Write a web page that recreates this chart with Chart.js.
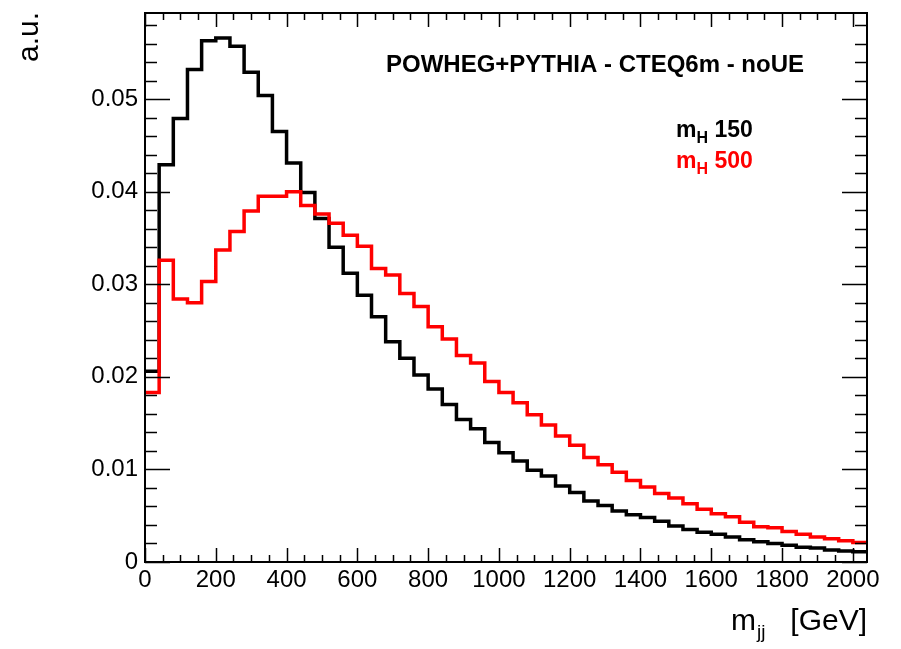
<!DOCTYPE html>
<html>
<head>
<meta charset="utf-8">
<script src="https://cdn.jsdelivr.net/npm/chart.js@4"></script>
<style>
  body { margin: 0; background: #fff; }
  #wrap { width: 901px; height: 649px; }
</style>
</head>
<body>
<div id="wrap"><canvas id="grafico" width="901" height="649"></canvas></div>
<script>
// lower bin edges of m_jj in GeV (40 GeV bins), last edge closes the range
const binLow = [0, 40, 80, 120, 160, 200, 240, 280, 320, 360, 400, 440, 480, 520, 560, 600, 640, 680,
  720, 760, 800, 840, 880, 920, 960, 1000, 1040, 1080, 1120, 1160, 1200, 1240, 1280, 1320, 1360,
  1400, 1440, 1480, 1520, 1560, 1600, 1640, 1680, 1720, 1760, 1800, 1840, 1880, 1920, 1960, 2000];
const xMax = 2040;

const mH150 = [0.0206, 0.0429, 0.0479, 0.0532, 0.0563, 0.0566, 0.0557, 0.0529, 0.0504, 0.0465,
  0.0431, 0.0399, 0.0371, 0.0340, 0.0312, 0.0288, 0.0265, 0.0238, 0.0220, 0.0202,
  0.0187, 0.0170, 0.0154, 0.0144, 0.0129, 0.0118, 0.0109, 0.0099, 0.0093, 0.0082,
  0.0075, 0.0066, 0.0061, 0.0055, 0.0051, 0.0048, 0.0044, 0.0039, 0.0035, 0.0032,
  0.0030, 0.0027, 0.0024, 0.0022, 0.0020, 0.0018, 0.0016, 0.0015, 0.0013, 0.0012, 0.0011];

const mH500 = [0.0183, 0.0326, 0.0284, 0.0280, 0.0303, 0.0337, 0.0357, 0.0379, 0.0395, 0.0395,
  0.0400, 0.0385, 0.0376, 0.0366, 0.0353, 0.0341, 0.0317, 0.0310, 0.0290, 0.0276,
  0.0254, 0.0241, 0.0223, 0.0215, 0.0195, 0.0183, 0.0172, 0.0159, 0.0148, 0.0136,
  0.0126, 0.0113, 0.0105, 0.0097, 0.0088, 0.0081, 0.0074, 0.0069, 0.0063, 0.0057,
  0.0052, 0.0049, 0.0043, 0.0038, 0.0037, 0.0033, 0.0030, 0.0027, 0.0025, 0.0023, 0.0021];

const xTickValues = [0, 200, 400, 600, 800, 1000, 1200, 1400, 1600, 1800, 2000];
const xTickLabels = ['0', '200', '400', '600', '800', '1000', '1200', '1400', '1600', '1800', '2000'];
const yTickValues = [0, 0.01, 0.02, 0.03, 0.04, 0.05];
const yTickLabels = ['0', '0.01', '0.02', '0.03', '0.04', '0.05'];
const yMax = 0.0593;

const fam = '"Liberation Sans", Arial, Helvetica, sans-serif';
Chart.defaults.font.family = fam;
Chart.defaults.color = '#000';

// histogram as a stepped line: one point per lower edge + closing point at xMax
function histo(vals) {
  const pts = binLow.map((x, i) => ({ x: x, y: vals[i] }));
  pts.push({ x: xMax, y: vals[vals.length - 1] });
  return pts;
}

// ROOT style frame, inward ticks on all four sides, axis titles and labels
const rootStyle = {
  id: 'rootStyle',
  afterDraw(chart) {
    const { ctx, chartArea: a, scales: { x, y } } = chart;
    ctx.save();
    ctx.strokeStyle = '#000';
    ctx.lineWidth = 1.5;
    ctx.beginPath();
    for (let v = 0; v <= xMax; v += 50) {
      const px = Math.round(x.getPixelForValue(v)) + 0.5;
      const len = v % 200 === 0 ? 14 : 7;
      ctx.moveTo(px, a.bottom); ctx.lineTo(px, a.bottom - len);
      ctx.moveTo(px, a.top); ctx.lineTo(px, a.top + len);
    }
    for (let k = 0; k <= 29; k++) {
      const v = k * 0.002;
      if (v > yMax) break;
      const py = Math.round(y.getPixelForValue(v)) + 0.5;
      const len = k % 5 === 0 ? 25 : 12;
      ctx.moveTo(a.left, py); ctx.lineTo(a.left + len, py);
      ctx.moveTo(a.right, py); ctx.lineTo(a.right - len, py);
    }
    ctx.stroke();

    ctx.lineWidth = 2;
    ctx.strokeRect(a.left, a.top, a.right - a.left, a.bottom - a.top);

    ctx.fillStyle = '#000';
    ctx.textBaseline = 'alphabetic';

    // x title m_jj [GeV]
    ctx.font = '30px ' + fam;
    ctx.textAlign = 'right';
    ctx.fillText('[GeV]', a.right, 630);
    ctx.textAlign = 'left';
    ctx.fillText('m', 731, 630);
    ctx.font = '19px ' + fam;
    ctx.fillText('jj', 757, 638);

    // y title
    ctx.save();
    ctx.translate(38, 12);
    ctx.rotate(-Math.PI / 2);
    ctx.font = '30px ' + fam;
    ctx.textAlign = 'right';
    ctx.fillText('a.u.', 0, 0);
    ctx.restore();

    // annotation
    ctx.font = 'bold 24px ' + fam;
    ctx.textAlign = 'left';
    ctx.fillText('POWHEG+PYTHIA - CTEQ6m - noUE', 386, 72);

    // legend labels
    const leg = [['150', '#000', 137], ['500', '#ff0000', 168]];
    leg.forEach(([m, col, base]) => {
      ctx.fillStyle = col;
      ctx.font = 'bold 23px ' + fam;
      ctx.fillText('m', 676, base);
      let w = ctx.measureText('m').width;
      ctx.font = 'bold 16px ' + fam;
      ctx.fillText('H', 676 + w, base + 6);
      w += ctx.measureText('H').width;
      ctx.font = 'bold 23px ' + fam;
      ctx.fillText(' ' + m, 676 + w, base);
    });
    ctx.restore();
  }
};

new Chart(document.getElementById('grafico'), {
  type: 'line',
  data: {
    datasets: [
      {
        label: 'mH 150',
        data: histo(mH150),
        borderColor: '#000',
        borderWidth: 3.5,
        stepped: 'before',
        pointRadius: 0,
        fill: false,
        order: 1
      },
      {
        label: 'mH 500',
        data: histo(mH500),
        borderColor: '#ff0000',
        borderWidth: 3.5,
        stepped: 'before',
        pointRadius: 0,
        fill: false,
        order: 0
      }
    ]
  },
  options: {
    responsive: false,
    animation: false,
    layout: { padding: { top: 13, right: 34, left: 0, bottom: 0 } },
    plugins: { legend: { display: false }, tooltip: { enabled: false } },
    scales: {
      x: {
        type: 'linear',
        min: 0,
        max: xMax,
        grid: { display: false, drawTicks: false },
        border: { display: false },
        afterBuildTicks: (s) => { s.ticks = xTickValues.map(v => ({ value: v })); },
        afterFit: (s) => { s.height = 87; s.paddingLeft = 0; s.paddingRight = 0; },
        ticks: {
          autoSkip: false,
          maxRotation: 0,
          padding: 4,
          font: { size: 24 },
          callback: (v) => xTickLabels[xTickValues.indexOf(v)]
        }
      },
      y: {
        min: 0,
        max: yMax,
        grid: { display: false, drawTicks: false },
        border: { display: false },
        afterBuildTicks: (s) => { s.ticks = yTickValues.map(v => ({ value: v })); },
        afterFit: (s) => { s.width = 145; s.paddingTop = 0; s.paddingBottom = 0; },
        ticks: {
          padding: 7,
          font: { size: 24 },
          callback: (v) => yTickLabels[yTickValues.indexOf(v)]
        }
      }
    }
  },
  plugins: [rootStyle]
});
</script>
</body>
</html>
